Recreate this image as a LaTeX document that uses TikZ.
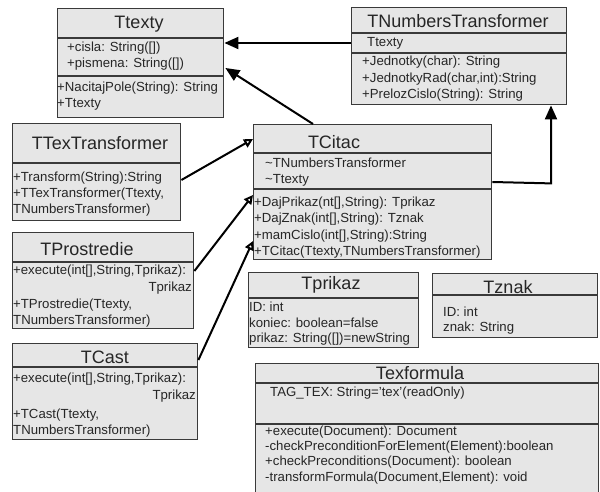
\documentclass[tikz,border=0pt]{standalone}
\usepackage{fontspec}
\setmainfont{Liberation Sans}
\usetikzlibrary{arrows.meta,calc}
\definecolor{boxfill}{HTML}{E6E6E6}
\definecolor{boxline}{HTML}{3A3A3A}
\newcommand\bodyfont{\fontsize{13.2}{15}\selectfont}
\newcommand\titlefont{\fontsize{18}{20}\selectfont}
\tikzset{
  classbox/.style={draw=boxline, fill=boxfill, line width=1.4pt, anchor=north west, inner sep=0pt},
  divider/.style={draw=boxline, line width=1.4pt},
  title/.style={font=\titlefont, inner sep=0pt, text=black!85},
  member/.style={font=\bodyfont, inner sep=0pt, anchor=west, text=black!85},
  memberr/.style={font=\bodyfont, inner sep=0pt, anchor=east, text=black!85},
  assoc/.style={line width=2pt, -{Triangle[length=14pt,width=12pt]}},
  inherit/.style={line width=2pt, -{Triangle[open,length=9pt,width=9pt,fill=white]}}
}
\begin{document}
\begin{tikzpicture}[x=1pt,y=-1pt]
\useasboundingbox (0,0) rectangle (600,492);
\fill[white] (0,0) rectangle (600,492);
\clip (0,0) rectangle (600,492);

% ---- Ttexty
\node[classbox, minimum width=166pt, minimum height=109pt] (ttexty) at (57,8) {};
\draw[divider] ($(ttexty.north west)+(0,30)$) -- ($(ttexty.north east)+(0,30)$);
\draw[divider] ($(ttexty.north west)+(0,68)$) -- ($(ttexty.north east)+(0,68)$);
\node[title] (ttexty-t) at (139,24) {Ttexty};
\node[member] (ttexty-a1) at (67,48) {+cisla: String([])};
\node[member] (ttexty-a2) at (67,64) {+pismena: String([])};
\node[member] (ttexty-m1) at (57,88) {+NacitajPole(String): String};
\node[member] (ttexty-m2) at (57,104) {+Ttexty};

% ---- TNumbersTransformer
\node[classbox, minimum width=215pt, minimum height=97pt] (tnum) at (351,7) {};
\draw[divider] ($(tnum.north west)+(0,26)$) -- ($(tnum.north east)+(0,26)$);
\draw[divider] ($(tnum.north west)+(0,46)$) -- ($(tnum.north east)+(0,46)$);
\node[title] (tnum-t) at (458,21) {TNumbersTransformer};
\node[member] (tnum-a1) at (367,43) {Ttexty};
\node[member] (tnum-m1) at (362,62) {+Jednotky(char): String};
\node[member] (tnum-m2) at (362,79) {+JednotkyRad(char,int):String};
\node[member] (tnum-m3) at (362,95) {+PrelozCislo(String): String};

% ---- TTexTransformer
\node[classbox, minimum width=168pt, minimum height=97pt] (ttex) at (12,123) {};
\draw[divider] ($(ttex.north west)+(0,40)$) -- ($(ttex.north east)+(0,40)$);
\node[title] (ttex-t) at (100,143) {TTexTransformer};
\node[member] (ttex-m1) at (13,178) {+Transform(String):String};
\node[member] (ttex-m2) at (13,194) {+TTexTransformer(Ttexty,};
\node[member] (ttex-m3) at (13,210) {TNumbersTransformer)};

% ---- TCitac
\node[classbox, minimum width=238pt, minimum height=135pt] (tcitac) at (253,124) {};
\draw[divider] ($(tcitac.north west)+(0,29)$) -- ($(tcitac.north east)+(0,29)$);
\draw[divider] ($(tcitac.north west)+(0,65)$) -- ($(tcitac.north east)+(0,65)$);
\node[title] (tcitac-t) at (334,142) {TCitac};
\node[member] (tcitac-a1) at (265,163) {\textasciitilde TNumbersTransformer};
\node[member] (tcitac-a2) at (265,180) {\textasciitilde Ttexty};
\node[member] (tcitac-m1) at (254,203) {+DajPrikaz(nt[],String): Tprikaz};
\node[member] (tcitac-m2) at (254,219) {+DajZnak(int[],String): Tznak};
\node[member] (tcitac-m3) at (254,236) {+mamCislo(int[],String):String};
\node[member] (tcitac-m4) at (254,252) {+TCitac(Ttexty,TNumbersTransformer)};

% ---- TProstredie
\node[classbox, minimum width=181pt, minimum height=96pt] (tpros) at (12,232) {};
\draw[divider] ($(tpros.north west)+(0,30)$) -- ($(tpros.north east)+(0,30)$);
\node[title] (tpros-t) at (87,249) {TProstredie};
\node[member] (tpros-m1) at (13,271) {+execute(int[],String,Tprikaz):};
\node[memberr] (tpros-m1b) at (192,288) {Tprikaz};
\node[member] (tpros-m2) at (13,305) {+TProstredie(Ttexty,};
\node[member] (tpros-m3) at (13,321) {TNumbersTransformer)};

% ---- TCast
\node[classbox, minimum width=185pt, minimum height=96pt] (tcast) at (12,343) {};
\draw[divider] ($(tcast.north west)+(0,24)$) -- ($(tcast.north east)+(0,24)$);
\node[title] (tcast-t) at (105,357) {TCast};
\node[member] (tcast-m1) at (13,379) {+execute(int[],String,Tprikaz):};
\node[memberr] (tcast-m1b) at (196,396) {Tprikaz};
\node[member] (tcast-m2) at (13,415) {+TCast(Ttexty,};
\node[member] (tcast-m3) at (13,431) {TNumbersTransformer)};

% ---- Tprikaz
\node[classbox, minimum width=170pt, minimum height=75pt] (tprikaz) at (248,272) {};
\draw[divider] ($(tprikaz.north west)+(0,26)$) -- ($(tprikaz.north east)+(0,26)$);
\node[title] (tprikaz-t) at (331,285) {Tprikaz};
\node[member] (tprikaz-a1) at (249,307) {ID: int};
\node[member] (tprikaz-a2) at (249,323) {koniec: boolean=false};
\node[member] (tprikaz-a3) at (249,339) {prikaz: String([])=newString};

% ---- Tznak
\node[classbox, minimum width=165pt, minimum height=64pt] (tznak) at (432,273) {};
\draw[divider] ($(tznak.north west)+(0,22)$) -- ($(tznak.north east)+(0,22)$);
\node[title] (tznak-t) at (508,287) {Tznak};
\node[member] (tznak-a1) at (443,312) {ID: int};
\node[member] (tznak-a2) at (443,328) {znak: String};

% ---- Texformula
\node[classbox, minimum width=343pt, minimum height=140pt] (texf) at (255,363) {};
\draw[divider] ($(texf.north west)+(0,20)$) -- ($(texf.north east)+(0,20)$);
\draw[divider] ($(texf.north west)+(0,61)$) -- ($(texf.north east)+(0,61)$);
\node[title] (texf-t) at (420,373) {Texformula};
\node[member] (texf-a1) at (270,393) {TAG\_TEX: String='tex'(readOnly)};
\node[member] (texf-m1) at (265,432) {+execute(Document): Document};
\node[member] (texf-m2) at (265,447) {-checkPreconditionForElement(Element):boolean};
\node[member] (texf-m3) at (265,462) {+checkPreconditions(Document): boolean};
\node[member] (texf-m4) at (265,478) {-transformFormula(Document,Element): void};

% ---- connectors
\draw[assoc] ($(tnum.north west)+(0,36)$) -- ($(ttexty.north east)+(0,35)$);
\draw[assoc] ($(tcitac.north west)+(60,0)$) -- ($(ttexty.north east)+(1,60)$);
\coordinate (bend) at ($(tnum.south west)+(200,78)$);
\draw[assoc] ($(tcitac.north east)+(0,58)$) -- (bend) -- (bend |- tnum.south);
\draw[inherit] ($(ttex.north east)+(0,57)$) -- ($(tcitac.north west)+(0,15)$);
\draw[inherit] ($(tpros.north east)+(0,39)$) -- ($(tcitac.north west)+(0,71)$);
\draw[inherit] ($(tcast.north east)+(0,17)$) -- ($(tcitac.north west)+(0,117)$);
\end{tikzpicture}
\end{document}
